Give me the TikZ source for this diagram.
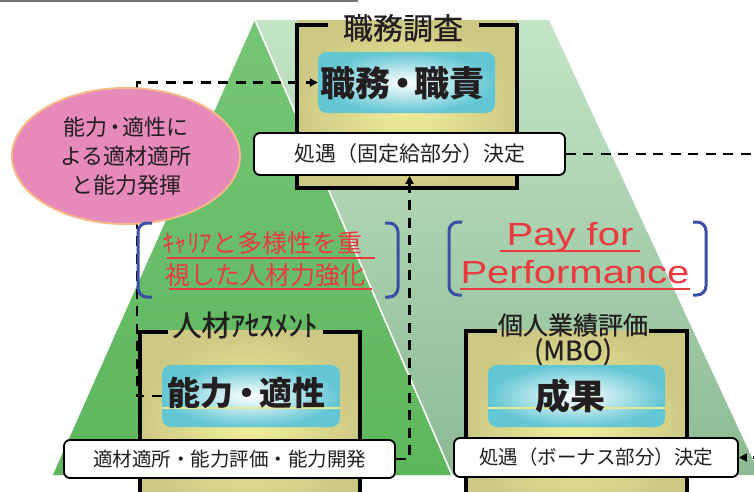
\documentclass[tikz,border=0pt]{standalone}
\usepackage{fontspec}
\setmainfont{Liberation Sans}
\newfontfamily\jp{Noto Sans CJK JP}
\newfontfamily\jpm[FakeBold=0.6]{Noto Sans CJK JP}
\usetikzlibrary{arrows.meta,shapes.geometric}
\newcommand\tightdot[1]{\kern-#1em・\kern-#1em}
\definecolor{ltgreenT}{HTML}{C4E4C6}
\definecolor{ltgreenB}{HTML}{8CBA94}
\definecolor{dkgreenT}{HTML}{76C576}
\definecolor{dkgreenB}{HTML}{5DB65C}
\definecolor{khakiL}{HTML}{F0EF9C}
\definecolor{khakiD}{HTML}{CDC985}
\definecolor{cyanD}{HTML}{62C6D3}
\definecolor{txt}{HTML}{231F20}
\definecolor{pinkfill}{HTML}{E58AB9}
\definecolor{pinkedge}{HTML}{F5B98A}
\definecolor{bracketblue}{HTML}{3B4FA4}
\definecolor{redtxt}{HTML}{E83A3F}
\definecolor{paleyellow}{HTML}{E9E98F}
\tikzset{
  khakishade/.style={inner color=khakiL, outer color=khakiD},
  cyanbox/.style={rounded corners=9pt, inner color=white, outer color=cyanD, inner sep=0pt},
  lblbox/.style={draw=black, line width=1.8pt, fill=white, rounded corners=6pt, text=txt, inner sep=0pt},
  frameline/.style={line width=4pt, black},
  dashline/.style={line width=2.6pt, dash pattern=on 10pt off 7.5pt, black},
  tipA/.style={-{Triangle[length=8pt,width=8pt]}},
  bracketline/.style={draw=bracketblue, line width=3pt, rounded corners=9pt},
  redline/.style={draw=redtxt, line width=2.5pt},
  titletext/.style={text=txt, inner sep=0pt},
  bigtext/.style={text=txt, inner sep=0pt, font=\jp\bfseries\fontsize{35}{40}\selectfont},
}
\begin{document}
\begin{tikzpicture}[x=1pt,y=-1pt]
\useasboundingbox (0,0) rectangle (754,491);
\clip (0,0) rectangle (754,491);
% top grey rule
\draw[black!55, line width=2pt] (0,1) -- (358,1);
% background shapes
\shade[top color=ltgreenT, bottom color=ltgreenB] (255,20) -- (549,20) -- (760,475) -- (53,475) -- cycle;
\shade[top color=dkgreenT, bottom color=dkgreenB] (255,20) -- (452,475) -- (53,475) -- cycle;
\draw[white, line width=1.6pt] (255,20) -- (452,475);
% top box
\shade[khakishade] (297,20) rectangle (517,188);
\draw[frameline] (328,25) -- (297,25) -- (297,188) -- (517,188) -- (517,25) -- (479,25);
\node[titletext, font=\jpm\fontsize{30}{34}\selectfont] (ttop) at (403,28) {職務調査};
\node[cyanbox, minimum width=177pt, minimum height=61pt] (duty) at (406.5,82.5) {};
\node[bigtext] (dutytxt) at (402.5,83) {職務\tightdot{0.17}職責};
\node[lblbox, minimum width=311pt, minimum height=42pt, font=\jp\fontsize{21}{24}\selectfont] (pay1) at (409.5,154) {処遇（固定給部分）決定};
% bottom-left box
\shade[khakishade] (140,330) rectangle (360,520);
\draw[frameline] (168,332) -- (140,332) -- (140,520);
\draw[frameline] (323,332) -- (360,332) -- (360,520);
\node[titletext, font=\jpm\fontsize{29}{34}\selectfont] (tleft) at (245,325) {人材ｱｾｽﾒﾝﾄ};
\node[cyanbox, minimum width=178pt, minimum height=62pt] (abil) at (251,396) {};
\draw[paleyellow, line width=1.5pt] (162,408) -- (340,408);
\node[text=txt, inner sep=0pt, font=\jp\bfseries\fontsize{33}{38}\selectfont] (abiltxt) at (246.5,393) {能力\tightdot{0.1}適性};
\node[lblbox, minimum width=331pt, minimum height=38pt, font=\jp\fontsize{19.5}{22}\selectfont] (lbl2) at (229.5,459) {適材適所・能力評価・能力開発};
% bottom-right box
\shade[khakishade] (466,330) rectangle (687,520);
\draw[frameline] (497,331) -- (466,331) -- (466,520);
\draw[frameline] (649,331) -- (687,331) -- (687,520);
\node[titletext, font=\jpm\fontsize{25}{30}\selectfont] (tright) at (573,325) {個人業績評価};
\node[titletext, font=\jpm\fontsize{27}{30}\selectfont] (tmbo) at (573,352) {(MBO)};
\node[cyanbox, minimum width=177pt, minimum height=62pt] (result) at (576.5,396) {};
\draw[paleyellow, line width=1.5pt] (488,408) -- (665,408);
\node[bigtext] (resulttxt) at (570,396) {成果};
\node[lblbox, minimum width=284pt, minimum height=39pt, font=\jp\fontsize{19.5}{22}\selectfont] (bonus) at (596,457.5) {処遇（ボーナス部分）決定};
% connectors
\draw[dashline, tipA] (abil.west) -- ++(-25,0) |- (duty.west);
\draw[dashline, tipA] (lbl2.east) -| (pay1.south);
\coordinate (out1) at (762,154);
\coordinate (out2) at (763,457.5);
\draw[dashline] (pay1.east) -- (out1);
\draw[dashline, tipA] (out2) -- (bonus.east);
% pink ellipse
\node[ellipse, draw=pinkedge, line width=2pt, fill=pinkfill, minimum width=228pt, minimum height=136pt, text=txt, align=center, font=\jp\fontsize{22}{29}\selectfont] (goal) at (126,156) {能力\tightdot{0.15}適性に\\よる適材適所\\と能力発揮};
% brackets
\draw[bracketline] (152,223) -- (138,223) -- (138,297) -- (152,297);
\draw[bracketline] (385,223) -- (398,223) -- (398,297) -- (385,297);
\draw[bracketline] (462,222) -- (449,222) -- (449,295) -- (462,295);
\draw[bracketline] (693,222) -- (706,222) -- (706,295) -- (693,295);
% red texts
\node[anchor=base west, inner sep=0pt, text=redtxt, font=\jp\fontsize{25}{28}\selectfont] (career1) at (162,252) {ｷｬﾘｱと多様性を重};
\node[anchor=base west, inner sep=0pt, text=redtxt, font=\jp\fontsize{25}{28}\selectfont] (career2) at (165,284) {視した人材力強化};
\draw[redline] (167,258) -- (375,258);
\draw[redline] (169,289) -- (372,289);
\node[anchor=base, inner sep=0pt, text=redtxt, font=\fontsize{32}{36}\selectfont] (pfp1) at (570,245) {\scalebox{1.25}[1]{Pay for}};
\node[anchor=base, inner sep=0pt, text=redtxt, font=\fontsize{32}{36}\selectfont] (pfp2) at (575,283) {\scalebox{1.25}[1]{Performance}};
\draw[redline] (500,251) -- (640,251);
\draw[redline] (460,289) -- (690,289);
\end{tikzpicture}
\end{document}
